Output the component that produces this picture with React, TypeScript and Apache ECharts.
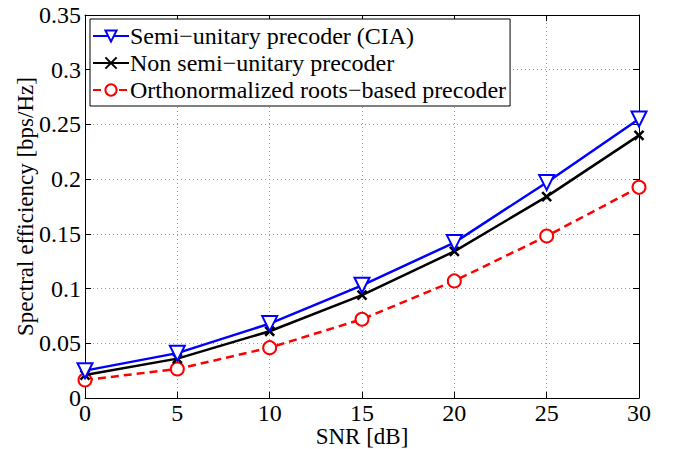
import React, { useEffect, useRef } from "react";
import * as echarts from "echarts";

const snr = [0, 5, 10, 15, 20, 25, 30];
const semiUnitary = [0.025, 0.041, 0.068, 0.103, 0.142, 0.197, 0.255];
const nonSemiUnitary = [0.021, 0.036, 0.061, 0.094, 0.134, 0.184, 0.24];
const orthoRoots = [0.0165, 0.0265, 0.046, 0.072, 0.107, 0.148, 0.1925];
const seriesNames = [
  "Semi\u2212unitary precoder (CIA)",
  "Non semi\u2212unitary precoder",
  "Orthonormalized roots\u2212based precoder",
];
const xLabel = "SNR [dB]";
const yLabel = "Spectral efficiency [bps/Hz]";

const FONT = "Liberation Serif";

export default function App() {
  const ref = useRef<HTMLDivElement>(null);
  useEffect(() => {
    if (!ref.current) return;
    const chart = echarts.init(ref.current, null, { renderer: "svg" });
    const pair = (ys: number[]) => snr.map((x, i) => [x, ys[i]]);
    const gridLine = { show: true, lineStyle: { color: "#9a9a9a", type: [1, 3], width: 1 } };
    chart.setOption({
      animation: false,
      backgroundColor: "#fff",
      textStyle: { fontFamily: FONT },
      grid: { left: 85, right: 38, top: 15, bottom: 51, containLabel: false, outerBoundsMode: "none" },
      legend: {
        orient: "vertical",
        left: 90,
        top: 19,
        padding: [5, 4, 4, 2],
        itemGap: 3,
        itemWidth: 36,
        itemHeight: 14,
        borderColor: "#000",
        borderWidth: 1,
        backgroundColor: "#fff",
        textStyle: { fontFamily: FONT, fontSize: 24, color: "#000", padding: [0, 0, 0, -4] },
        data: seriesNames,
      },
      xAxis: [
        {
          type: "value",
          min: 0,
          max: 30,
          interval: 5,
          name: xLabel,
          nameLocation: "middle",
          nameGap: 28,
          nameMoveOverlap: false,
          nameTextStyle: { fontFamily: FONT, fontSize: 23, lineHeight: 20, color: "#000" },
          axisLine: { show: true, lineStyle: { color: "#000", width: 1 } },
          axisTick: { show: true, inside: true, length: 6, lineStyle: { color: "#000" } },
          axisLabel: { fontFamily: FONT, fontSize: 24, lineHeight: 22, color: "#000", margin: 4 },
          splitLine: gridLine,
        },
        {
          type: "value",
          position: "top",
          min: 0,
          max: 30,
          interval: 5,
          axisLine: { show: true, onZero: false, lineStyle: { color: "#000", width: 1 } },
          axisTick: { show: true, inside: true, length: 6, lineStyle: { color: "#000" } },
          axisLabel: { show: false },
          splitLine: { show: false },
        },
      ],
      yAxis: [
        {
          type: "value",
          min: 0,
          max: 0.35,
          interval: 0.05,
          name: yLabel,
          nameLocation: "middle",
          nameGap: 48,
          nameMoveOverlap: false,
          nameTextStyle: { fontFamily: FONT, fontSize: 23, color: "#000" },
          axisLine: { show: true, lineStyle: { color: "#000", width: 1 } },
          axisTick: { show: true, inside: true, length: 6, lineStyle: { color: "#000" } },
          axisLabel: {
            fontFamily: FONT,
            fontSize: 24,
            color: "#000",
            margin: 4,
            formatter: (v: number) => String(Math.round(v * 100) / 100),
          },
          splitLine: gridLine,
        },
        {
          type: "value",
          position: "right",
          min: 0,
          max: 0.35,
          interval: 0.05,
          axisLine: { show: true, onZero: false, lineStyle: { color: "#000", width: 1 } },
          axisTick: { show: true, inside: true, length: 6, lineStyle: { color: "#000" } },
          axisLabel: { show: false },
          splitLine: { show: false },
        },
      ],
      series: [
        {
          name: seriesNames[0],
          type: "line",
          data: pair(semiUnitary),
          symbol: "emptyTriangle",
          symbolRotate: 180,
          symbolSize: 15,
          lineStyle: { color: "#0000ff", width: 2.5 },
          itemStyle: { color: "#0000ff", borderColor: "#0000ff", borderWidth: 2 },
          z: 4,
        },
        {
          name: seriesNames[1],
          type: "line",
          data: pair(nonSemiUnitary),
          symbol: "path://M0,0L10,10M10,0L0,10",
          symbolSize: 9,
          lineStyle: { color: "#000", width: 2.5 },
          itemStyle: { color: "#000", borderColor: "#000", borderWidth: 2.5 },
          z: 3,
        },
        {
          name: seriesNames[2],
          type: "line",
          data: pair(orthoRoots),
          symbol: "emptyCircle",
          symbolSize: 13,
          lineStyle: { color: "#ff0000", width: 2.5, type: [8, 5] },
          itemStyle: { color: "#ff0000", borderColor: "#ff0000", borderWidth: 2.5 },
          z: 2,
        },
      ],
    });
    return () => chart.dispose();
  }, []);
  return <div ref={ref} style={{ width: 677, height: 449, position: "absolute", left: 0, top: 0 }} />;
}
